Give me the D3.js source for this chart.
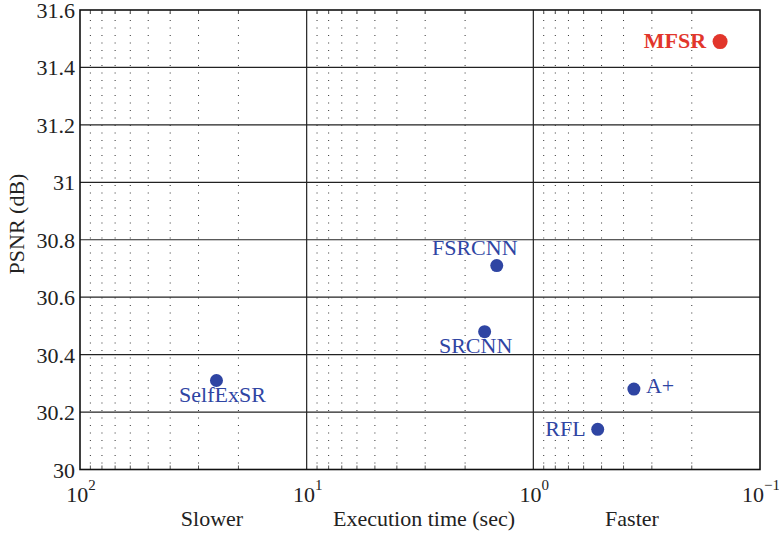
<!DOCTYPE html>
<html>
<head>
<meta charset="utf-8">
<script src="https://cdn.jsdelivr.net/npm/d3@7"></script>
<style>
  body { margin: 0; background: #fff; }
  svg { display: block; }
  text { font-family: "Liberation Serif", "DejaVu Serif", serif; }
</style>
</head>
<body>
<div id="app"></div>
<script>
// --- data ---
const methods = ["MFSR", "FSRCNN", "SRCNN", "SelfExSR", "A+", "RFL"];
const times = [0.15, 1.45, 1.64, 25, 0.36, 0.52];        // seconds
const psnr = [31.49, 30.71, 30.48, 30.31, 30.28, 30.14];  // dB
const yTicks = [30, 30.2, 30.4, 30.6, 30.8, 31, 31.2, 31.4, 31.6];
const xDecades = [2, 1, 0, -1];
const xNotes = ["Slower", "Execution time (sec)", "Faster"];

// label placement (styling only)
const labelPos = {
  "MFSR":     { dx: -14, dy: 6,   anchor: "end" },
  "FSRCNN":   { dx: -22, dy: -11, anchor: "middle" },
  "SRCNN":    { dx: -9,  dy: 21,  anchor: "middle" },
  "SelfExSR": { dx: 6,   dy: 22,  anchor: "middle" },
  "A+":       { dx: 12,  dy: 4,   anchor: "start" },
  "RFL":      { dx: -12, dy: 7,   anchor: "end" }
};

const width = 779, height = 535;
const pLeft = 80, pRight = 760, pTop = 10, pBottom = 469.5;

const x = d3.scaleLog().domain([100, 0.1]).range([pLeft, pRight]);
const y = d3.scaleLinear().domain([30, 31.6]).range([pBottom, pTop]);

const svg = d3.select("#app").append("svg")
    .attr("width", width)
    .attr("height", height);

// minor vertical dotted grid
const minor = [];
xDecades.slice(1).forEach(e => {
    for (let k = 2; k <= 9; k++) minor.push(k * Math.pow(10, e));
});
svg.append("g").selectAll("line")
    .data(minor)
    .join("line")
    .attr("x1", d => x(d)).attr("x2", d => x(d))
    .attr("y1", pTop + 2.5).attr("y2", pBottom)
    .attr("stroke", "#333")
    .attr("stroke-width", 1)
    .attr("stroke-dasharray", "1,6.5");

// minor ticks (top and bottom, inside)
svg.append("g").selectAll("path")
    .data(minor)
    .join("path")
    .attr("d", d => `M${x(d)},${pTop}v4M${x(d)},${pBottom}v-4`)
    .attr("stroke", "#555")
    .attr("stroke-width", 1);

// major grid
svg.append("g").selectAll("line")
    .data(yTicks.slice(1, -1))
    .join("line")
    .attr("x1", pLeft).attr("x2", pRight)
    .attr("y1", d => y(d)).attr("y2", d => y(d))
    .attr("stroke", "#222")
    .attr("stroke-width", 1.2);

svg.append("g").selectAll("line")
    .data(xDecades.slice(1, -1))
    .join("line")
    .attr("x1", d => x(Math.pow(10, d))).attr("x2", d => x(Math.pow(10, d)))
    .attr("y1", pTop).attr("y2", pBottom)
    .attr("stroke", "#222")
    .attr("stroke-width", 1.2);

// box
svg.append("rect")
    .attr("x", pLeft).attr("y", pTop)
    .attr("width", pRight - pLeft).attr("height", pBottom - pTop)
    .attr("fill", "none")
    .attr("stroke", "#111")
    .attr("stroke-width", 1.6);

// y tick labels
svg.append("g").selectAll("text")
    .data(yTicks)
    .join("text")
    .attr("x", pLeft - 5)
    .attr("y", d => y(d) + 8)
    .attr("text-anchor", "end")
    .attr("font-size", 22)
    .attr("fill", "#222")
    .text(d => d3.format("~g")(d));

// x tick labels 10^n
const xl = svg.append("g").selectAll("text")
    .data(xDecades)
    .join("text")
    .attr("x", d => x(Math.pow(10, d)) + 1)
    .attr("y", 502)
    .attr("text-anchor", "middle")
    .attr("font-size", 22)
    .attr("fill", "#222");
xl.append("tspan").text("10");
xl.append("tspan")
    .attr("dy", -12)
    .attr("font-size", 15)
    .text(d => d < 0 ? "\u2212" + Math.abs(d) : d);

// notes under the axis
const noteX = [212, 424, 632];
svg.append("g").selectAll("text")
    .data(xNotes)
    .join("text")
    .attr("x", (d, i) => noteX[i])
    .attr("y", 526)
    .attr("text-anchor", "middle")
    .attr("font-size", 22)
    .attr("fill", "#222")
    .text(d => d);

// y axis title
svg.append("text")
    .attr("transform", "translate(24,224) rotate(-90)")
    .attr("text-anchor", "middle")
    .attr("font-size", 22)
    .attr("fill", "#222")
    .text("PSNR (dB)");

// points
const pts = methods.map((m, i) => ({ name: m, t: times[i], p: psnr[i] }));
const col = d => d.name === "MFSR" ? "#e2362b" : "#2f45a3";

svg.append("g").selectAll("circle")
    .data(pts)
    .join("circle")
    .attr("cx", d => x(d.t))
    .attr("cy", d => y(d.p))
    .attr("r", d => d.name === "MFSR" ? 7.5 : 6.5)
    .attr("fill", col);

svg.append("g").selectAll("text")
    .data(pts)
    .join("text")
    .attr("x", d => x(d.t) + labelPos[d.name].dx)
    .attr("y", d => y(d.p) + labelPos[d.name].dy)
    .attr("text-anchor", d => labelPos[d.name].anchor)
    .attr("font-size", 22)
    .attr("font-weight", d => d.name === "MFSR" ? "bold" : "normal")
    .attr("fill", col)
    .text(d => d.name);
</script>
</body>
</html>
